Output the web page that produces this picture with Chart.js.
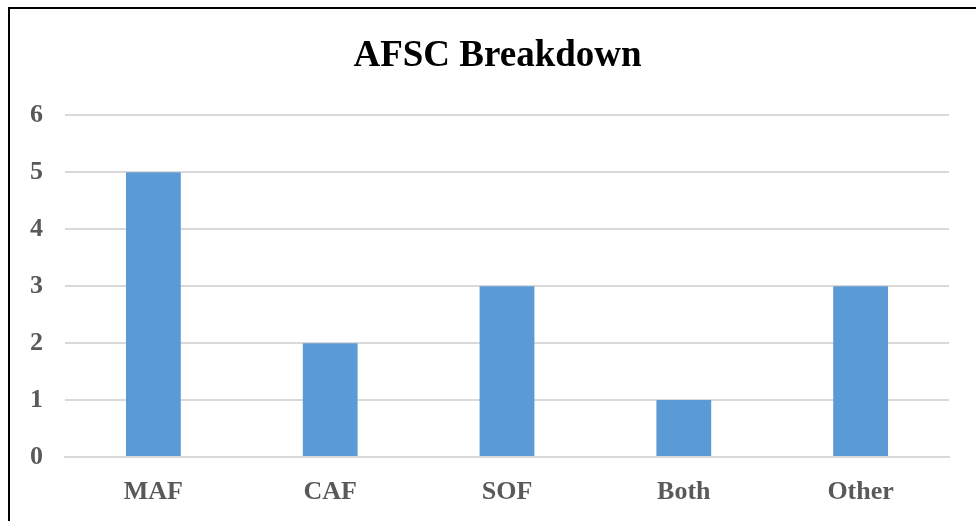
<!DOCTYPE html>
<html>
<head>
<meta charset="utf-8">
<script src="https://cdn.jsdelivr.net/npm/chart.js@4"></script>
<style>
  body { margin: 0; background: #fff; }
  #box {
    position: absolute; left: 8px; top: 7px;
    width: 966px; height: 514px;
    border-top: 2px solid #000; border-left: 2px solid #000;
  }
</style>
</head>
<body>
<div id="box"><canvas id="myChart" width="966" height="512"></canvas></div>
<script>
const categories = ["MAF", "CAF", "SOF", "Both", "Other"];
const counts = [5, 2, 3, 1, 3];
const yTicks = [0, 1, 2, 3, 4, 5, 6];

const tickFont = { family: "Liberation Serif", size: 26, weight: "bold" };

// title in the original sits a bit right of the plot centre
const shiftTitle = {
  id: "shiftTitle",
  afterLayout(chart) {
    if (chart.titleBlock) chart.titleBlock.left += 17;
  },
};

const ctx = document.getElementById("myChart");
new Chart(ctx, {
  type: "bar",
  data: {
    labels: categories,
    datasets: [
      {
        label: "Count",
        data: counts,
        backgroundColor: "#5b9bd5",
        barPercentage: 0.62,
        categoryPercentage: 0.5,
      },
    ],
  },
  options: {
    responsive: false,
    animation: false,
    layout: { padding: { left: 19, right: 27, top: 0, bottom: 0 } },
    plugins: {
      legend: { display: false },
      tooltip: { enabled: false },
      title: {
        display: true,
        text: "AFSC Breakdown",
        color: "#000",
        font: { family: "Liberation Serif", size: 37, weight: "bold" },
        padding: { top: 25, bottom: 37 },
      },
    },
    scales: {
      x: {
        grid: { display: false, drawTicks: false },
        border: { display: true, color: "#d9d9d9", width: 2 },
        ticks: { color: "#595959", padding: 20, font: tickFont },
        afterFit: (axis) => {
          axis.height = 64;
        },
      },
      y: {
        min: 0,
        max: 6,
        afterBuildTicks: (axis) => {
          axis.ticks = yTicks.map((v) => ({ value: v }));
        },
        grid: { color: "#d9d9d9", lineWidth: 2, drawTicks: false },
        border: { display: false },
        ticks: { color: "#595959", padding: 22, font: tickFont },
        afterFit: (axis) => {
          axis.width = 36;
        },
      },
    },
  },
  plugins: [shiftTitle],
});
</script>
</body>
</html>
